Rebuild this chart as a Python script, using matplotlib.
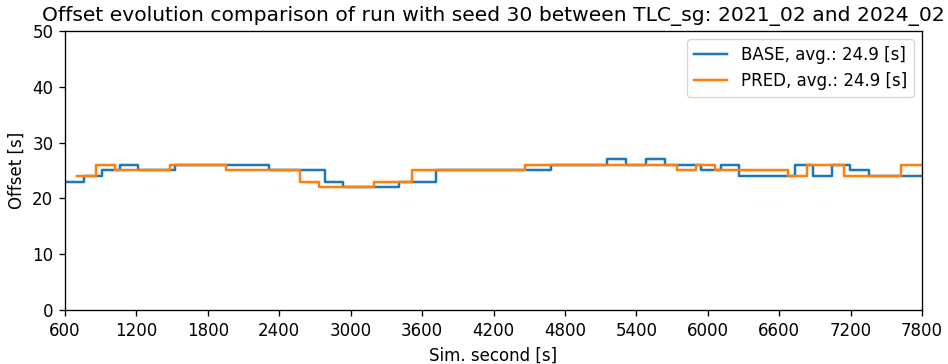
import matplotlib
matplotlib.use("Agg")
import matplotlib.pyplot as plt

base_t = [600, 760, 909, 1063, 1217, 1525, 2316, 2784, 2938, 3409, 3717, 4679,
          5156, 5316, 5478, 5638, 5944, 6108, 6262, 6734, 6888, 7042, 7197, 7353, 7800]
base_v = [23, 24, 25, 26, 25, 26, 25, 23, 22, 23, 25, 26,
          27, 26, 27, 26, 25, 26, 24, 26, 24, 26, 25, 24, 24]

pred_t = [704, 858, 1018, 1483, 1951, 2574, 2731, 3199, 3513, 4466,
          5741, 5904, 6058, 6675, 6838, 7146, 7620, 7800]
pred_v = [24, 26, 25, 26, 25, 23, 22, 23, 25, 26,
          25, 26, 25, 24, 26, 24, 26, 26]

xticks = [600, 1200, 1800, 2400, 3000, 3600, 4200, 4800, 5400, 6000, 6600, 7200, 7800]
yticks = [0, 10, 20, 30, 40, 50]

s = 1.2
plt.rcParams.update({
    "font.size": 10 * s,
    "axes.linewidth": 0.8 * s,
    "xtick.major.size": 3.5 * s,
    "ytick.major.size": 3.5 * s,
    "xtick.major.width": 0.8 * s,
    "ytick.major.width": 0.8 * s,
    "xtick.major.pad": 3.5 * s,
    "ytick.major.pad": 3.5 * s,
    "axes.labelpad": 4 * s,
    "axes.titlepad": 6 * s,
    "legend.fontsize": 10 * s,
})

fig = plt.figure(figsize=(9.48, 3.64), dpi=100)
ax = fig.add_axes([65 / 948, 1 - 310 / 364, (922 - 65) / 948, (310 - 31) / 364])

ax.plot(base_t, base_v, drawstyle="steps-post", color="#1f77b4", lw=1.5 * s,
        label="BASE, avg.: 24.9 [s]")
ax.plot(pred_t, pred_v, drawstyle="steps-post", color="#ff7f0e", lw=1.5 * s,
        label="PRED, avg.: 24.9 [s]")

ax.set_xlim(600, 7800)
ax.set_ylim(0, 50)
ax.set_xticks(xticks)
ax.set_yticks(yticks)
ax.set_xlabel("Sim. second [s]")
ax.set_ylabel("Offset [s]")
ax.set_title("Offset evolution comparison of run with seed 30 between TLC_sg: 2021_02 and 2024_02",
             fontsize=14.6)
ax.legend(loc="upper right")

fig.savefig("out.png", dpi=100)
